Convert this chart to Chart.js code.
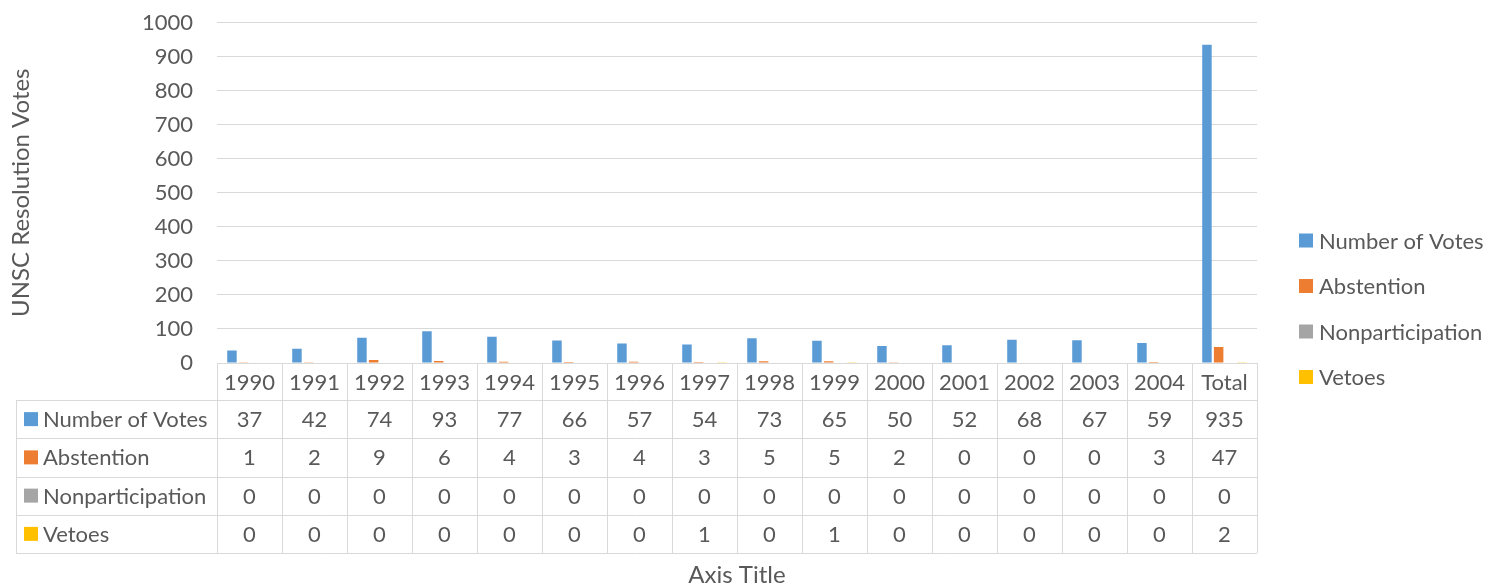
<!DOCTYPE html>
<html>
<head>
<meta charset="utf-8">
<title>UNSC Resolution Votes 1990–2004</title>
<script src="https://cdn.jsdelivr.net/npm/chart.js@4.4.1/dist/chart.umd.min.js"></script>
<style>
  html, body { margin: 0; padding: 0; background: #ffffff; }
  #wrap { width: 1488px; height: 586px; }
</style>
</head>
<body>
<div id="wrap"><canvas id="chart" width="1488" height="586"></canvas></div>
<script>
// Categories and series
const years = ['1990', '1991', '1992', '1993', '1994', '1995', '1996', '1997',
               '1998', '1999', '2000', '2001', '2002', '2003', '2004', 'Total'];
const numberOfVotes    = [37, 42, 74, 93, 77, 66, 57, 54, 73, 65, 50, 52, 68, 67, 59, 935];
const abstention       = [1, 2, 9, 6, 4, 3, 4, 3, 5, 5, 2, 0, 0, 0, 3, 47];
const nonparticipation = [0, 0, 0, 0, 0, 0, 0, 0, 0, 0, 0, 0, 0, 0, 0, 0];
const vetoes           = [0, 0, 0, 0, 0, 0, 0, 1, 0, 1, 0, 0, 0, 0, 0, 2];

const seriesNames  = ['Number of Votes', 'Abstention', 'Nonparticipation', 'Vetoes'];
const seriesColors = ['#5B9BD5', '#ED7D31', '#A5A5A5', '#FFC000'];

const yTicks = { min: 0, max: 1000, step: 100 };
const yAxisTitle = 'UNSC Resolution Votes';
const xAxisTitle = 'Axis Title';

const TEXT = '#595959';
const LINE = '#d9d9d9';
const FONT = 'Lato';
const LABEL_SIZE = 22;
const TITLE_SIZE = 24;

// Data table under the plot, side legend and bottom axis title
const tablePlugin = {
  id: 'dataTable',
  afterDraw(chart) {
    const { ctx, chartArea } = chart;
    const x = chart.scales.x;
    const n = years.length;
    const catW = (chartArea.right - chartArea.left) / n;
    const top = chartArea.bottom;
    const headBottom = top + 37;
    const rowH = 38.25;
    const tableLeft = 16;
    const rows = chart.data.datasets.length;
    const bottom = headBottom + rows * rowH;

    ctx.save();
    ctx.strokeStyle = LINE;
    ctx.lineWidth = 1;

    // vertical cell borders
    for (let i = 0; i <= n; i++) {
      const px = Math.round(chartArea.left + i * catW) + 0.5;
      ctx.beginPath();
      ctx.moveTo(px, top);
      ctx.lineTo(px, bottom);
      ctx.stroke();
    }
    ctx.beginPath();
    ctx.moveTo(tableLeft + 0.5, headBottom);
    ctx.lineTo(tableLeft + 0.5, bottom);
    ctx.stroke();

    // horizontal row borders
    for (let r = 0; r <= rows; r++) {
      const py = Math.round(headBottom + r * rowH) + 0.5;
      ctx.beginPath();
      ctx.moveTo(tableLeft, py);
      ctx.lineTo(chartArea.right, py);
      ctx.stroke();
    }

    ctx.fillStyle = TEXT;
    ctx.font = LABEL_SIZE + 'px ' + FONT;
    ctx.textAlign = 'center';
    ctx.textBaseline = 'middle';

    // category header row
    years.forEach((lab, i) => {
      ctx.fillText(lab, x.getPixelForValue(i), (top + headBottom) / 2 + 1);
    });

    // one row per series
    chart.data.datasets.forEach((ds, r) => {
      const cy = headBottom + (r + 0.5) * rowH + 1;
      ds.data.forEach((v, i) => {
        ctx.textAlign = 'center';
        ctx.fillText(String(v), x.getPixelForValue(i), cy);
      });
      ctx.fillStyle = ds.backgroundColor;
      ctx.fillRect(24, cy - 8, 14, 14);
      ctx.fillStyle = TEXT;
      ctx.textAlign = 'left';
      ctx.fillText(ds.label, 43, cy);
    });

    // legend on the right
    const legY0 = 240.5, legStep = 45.5;
    chart.data.datasets.forEach((ds, r) => {
      const cy = legY0 + r * legStep;
      ctx.fillStyle = ds.backgroundColor;
      ctx.fillRect(1299, cy - 7, 14, 14);
      ctx.fillStyle = TEXT;
      ctx.textAlign = 'left';
      ctx.fillText(ds.label, 1319, cy + 1);
    });

    // bottom axis title
    ctx.font = TITLE_SIZE + 'px ' + FONT;
    ctx.textAlign = 'center';
    ctx.fillText(xAxisTitle, (chartArea.left + chartArea.right) / 2, 575);
    ctx.restore();
  }
};

const datasets = [numberOfVotes, abstention, nonparticipation, vetoes].map((d, i) => ({
  label: seriesNames[i],
  data: d,
  backgroundColor: seriesColors[i],
  borderWidth: 0,
  categoryPercentage: 0.72,
  barPercentage: 0.81
}));

new Chart(document.getElementById('chart'), {
  type: 'bar',
  data: { labels: years, datasets },
  options: {
    responsive: false,
    devicePixelRatio: 1,
    animation: false,
    layout: { padding: { left: 3, top: 22.5, right: 231, bottom: 223 } },
    plugins: {
      legend: { display: false },
      tooltip: { enabled: false },
      title: { display: false }
    },
    scales: {
      x: {
        display: false,
        grid: { display: false }
      },
      y: {
        min: yTicks.min,
        max: yTicks.max,
        border: { display: false },
        // invisible tick marks keep the labels 24px clear of the plot
        grid: { color: LINE, lineWidth: 1, drawTicks: true, tickLength: 24, tickColor: 'rgba(0,0,0,0)' },
        ticks: {
          stepSize: yTicks.step,
          padding: 0,
          color: TEXT,
          font: { family: FONT, size: LABEL_SIZE },
          callback: (v) => String(v)
        },
        title: {
          display: true,
          text: yAxisTitle,
          color: TEXT,
          font: { family: FONT, size: TITLE_SIZE }
        },
        afterFit(scale) { scale.width = 214; }
      }
    }
  },
  plugins: [tablePlugin]
});
</script>
</body>
</html>
